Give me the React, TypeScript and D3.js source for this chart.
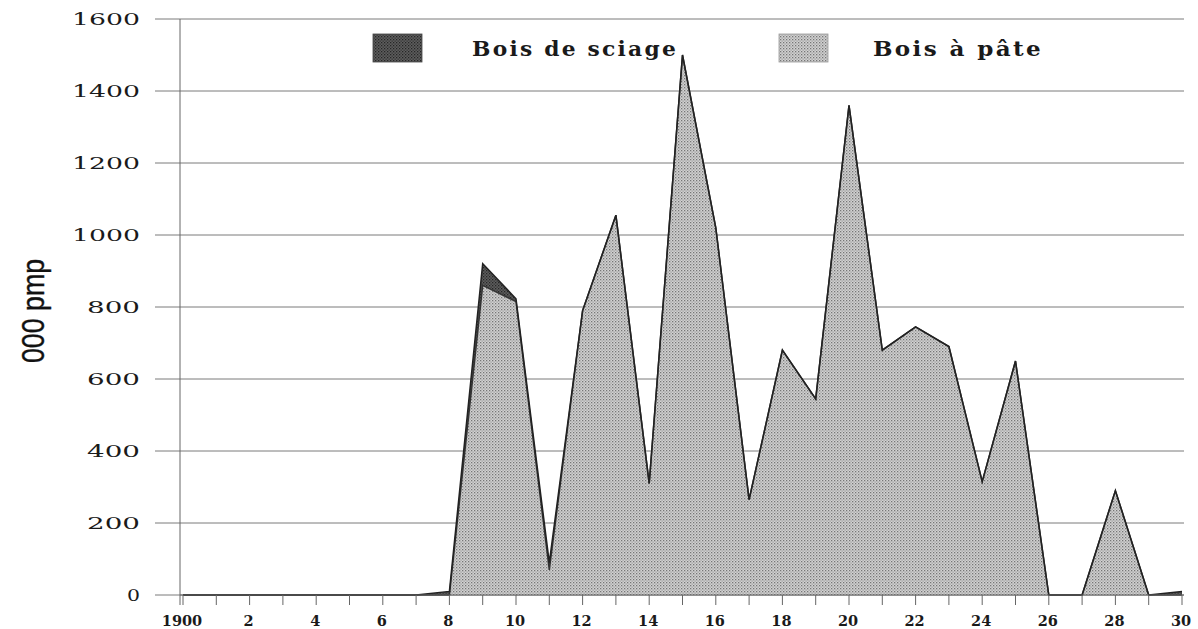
import React from "react";
import * as d3 from "d3";

const years = d3.range(1900, 1931);
// Bois à pâte (000 pmp)
const pate = [0, 0, 0, 0, 0, 0, 0, 0, 0, 860, 815, 70, 790, 1055, 310, 1500, 1020, 265, 680, 545, 1360, 680, 745, 690, 315, 650, 0, 0, 290, 0, 0];
// Bois de sciage (000 pmp)
const sciage = [0, 0, 0, 0, 0, 0, 0, 0, 10, 60, 8, 20, 0, 0, 0, 0, 0, 0, 0, 0, 0, 0, 0, 0, 0, 0, 0, 0, 0, 0, 10];
const yTicks = [0, 200, 400, 600, 800, 1000, 1200, 1400, 1600];
const xLabelYears = d3.range(1900, 1931, 2);
const seriesNames = ["Bois de sciage", "Bois à pâte"];

const W = 1198;
const H = 629;

function yLabelLen(s: string) {
  return 13 + (s.length - 1) * 20 - (s.startsWith("1") ? 5 : 0);
}

export default function App() {
  const x = d3.scaleLinear().domain([1900, 1930]).range([183, 1182]);
  const y = d3.scaleLinear().domain([0, 1600]).range([595, 19]);

  const rows = years.map((yr, i) => ({ year: yr, pate: pate[i], sciage: sciage[i] }));
  const stack = d3.stack<any>().keys(["pate", "sciage"]);
  const layers = stack(rows);
  const area = d3
    .area<any>()
    .x((d) => x(d.data.year))
    .y0((d) => y(d[0]))
    .y1((d) => y(d[1]))
    .curve(d3.curveLinear);
  const line = d3
    .line<any>()
    .x((d) => x(d.data.year))
    .y((d) => y(d[1]))
    .curve(d3.curveLinear);

  const axisX = 180;

  return (
    <svg width={W} height={H} style={{ position: "absolute", left: 0, top: 0, background: "#fff" }}>
      <defs>
        <pattern id="patePat" width="3" height="3" patternUnits="userSpaceOnUse">
          <rect width="3" height="3" fill="#d2d2d2" />
          <rect x="0" y="0" width="1.3" height="1.3" fill="#767676" />
          <rect x="1.5" y="1.5" width="1.2" height="1.2" fill="#949494" />
        </pattern>
        <pattern id="sciagePat" width="3" height="3" patternUnits="userSpaceOnUse">
          <rect width="3" height="3" fill="#5e5e5e" />
          <rect x="0" y="0" width="1.3" height="1.3" fill="#262626" />
          <rect x="1.5" y="1.5" width="1.3" height="1.3" fill="#333" />
        </pattern>
      </defs>

      {/* gridlines */}
      {yTicks.map((t) => (
        <line key={t} x1={155} x2={1184} y1={y(t)} y2={y(t)} stroke="#7a7a7a" strokeWidth={1} />
      ))}

      {/* areas */}
      <path d={area(layers[0]) || ""} fill="url(#patePat)" />
      <path d={area(layers[1]) || ""} fill="url(#sciagePat)" />
      <path d={line(layers[0]) || ""} fill="none" stroke="#333" strokeWidth={1.5} />
      <path d={line(layers[1]) || ""} fill="none" stroke="#222" strokeWidth={1.5} />

      {/* axes */}
      <line x1={axisX} x2={axisX} y1={y(1600)} y2={y(0) + 10} stroke="#666" strokeWidth={1} />
      <line x1={axisX} x2={1184} y1={y(0)} y2={y(0)} stroke="#666" strokeWidth={1} />
      {years.map((yr) => (
        <line key={yr} x1={x(yr)} x2={x(yr)} y1={y(0)} y2={y(0) + 10} stroke="#666" strokeWidth={1} />
      ))}

      {/* y labels */}
      {yTicks.map((t) => {
        const s = String(t);
        const len = yLabelLen(s);
        return (
          <text
            key={t}
            x={140 - len}
            y={y(t)}
            dy="0.36em"
            fontFamily="DejaVu Serif"
            fontSize={16.5}
            textLength={len}
            lengthAdjust="spacingAndGlyphs"
            fill="#1a1a1a"
          >
            {s}
          </text>
        );
      })}

      {/* x labels */}
      {xLabelYears.map((yr) => (
        <text
          key={yr}
          x={x(yr) - 1}
          y={626}
          textAnchor="middle"
          fontFamily="DejaVu Serif"
          fontWeight="bold"
          fontSize={14.5}
          fill="#1a1a1a"
        >
          {yr === 1900 ? "1900" : String(yr - 1900)}
        </text>
      ))}

      {/* y title */}
      <text
        transform={`translate(44,311) rotate(-90)`}
        textAnchor="middle"
        fontFamily="Liberation Sans Narrow, Liberation Sans"
        fontSize={31}
        textLength={104}
        lengthAdjust="spacingAndGlyphs"
        fill="#111"
        stroke="#111"
        strokeWidth={0.4}
      >
        000 pmp
      </text>

      {/* legend */}
      <rect x={373} y={34} width={49} height={28} fill="url(#sciagePat)" stroke="#444" strokeWidth={0.8} />
      <text
        x={472}
        y={56}
        fontFamily="DejaVu Serif"
        fontWeight="bold"
        fontSize={19.5}
        letterSpacing={2}
        textLength={206}
        lengthAdjust="spacingAndGlyphs"
        fill="#1a1a1a"
      >
        {seriesNames[0]}
      </text>
      <rect x={779} y={34} width={49} height={28} fill="url(#patePat)" stroke="#999" strokeWidth={0.8} />
      <text
        x={873}
        y={56}
        fontFamily="DejaVu Serif"
        fontWeight="bold"
        fontSize={19.5}
        letterSpacing={2}
        textLength={170}
        lengthAdjust="spacingAndGlyphs"
        fill="#1a1a1a"
      >
        {seriesNames[1]}
      </text>
    </svg>
  );
}
